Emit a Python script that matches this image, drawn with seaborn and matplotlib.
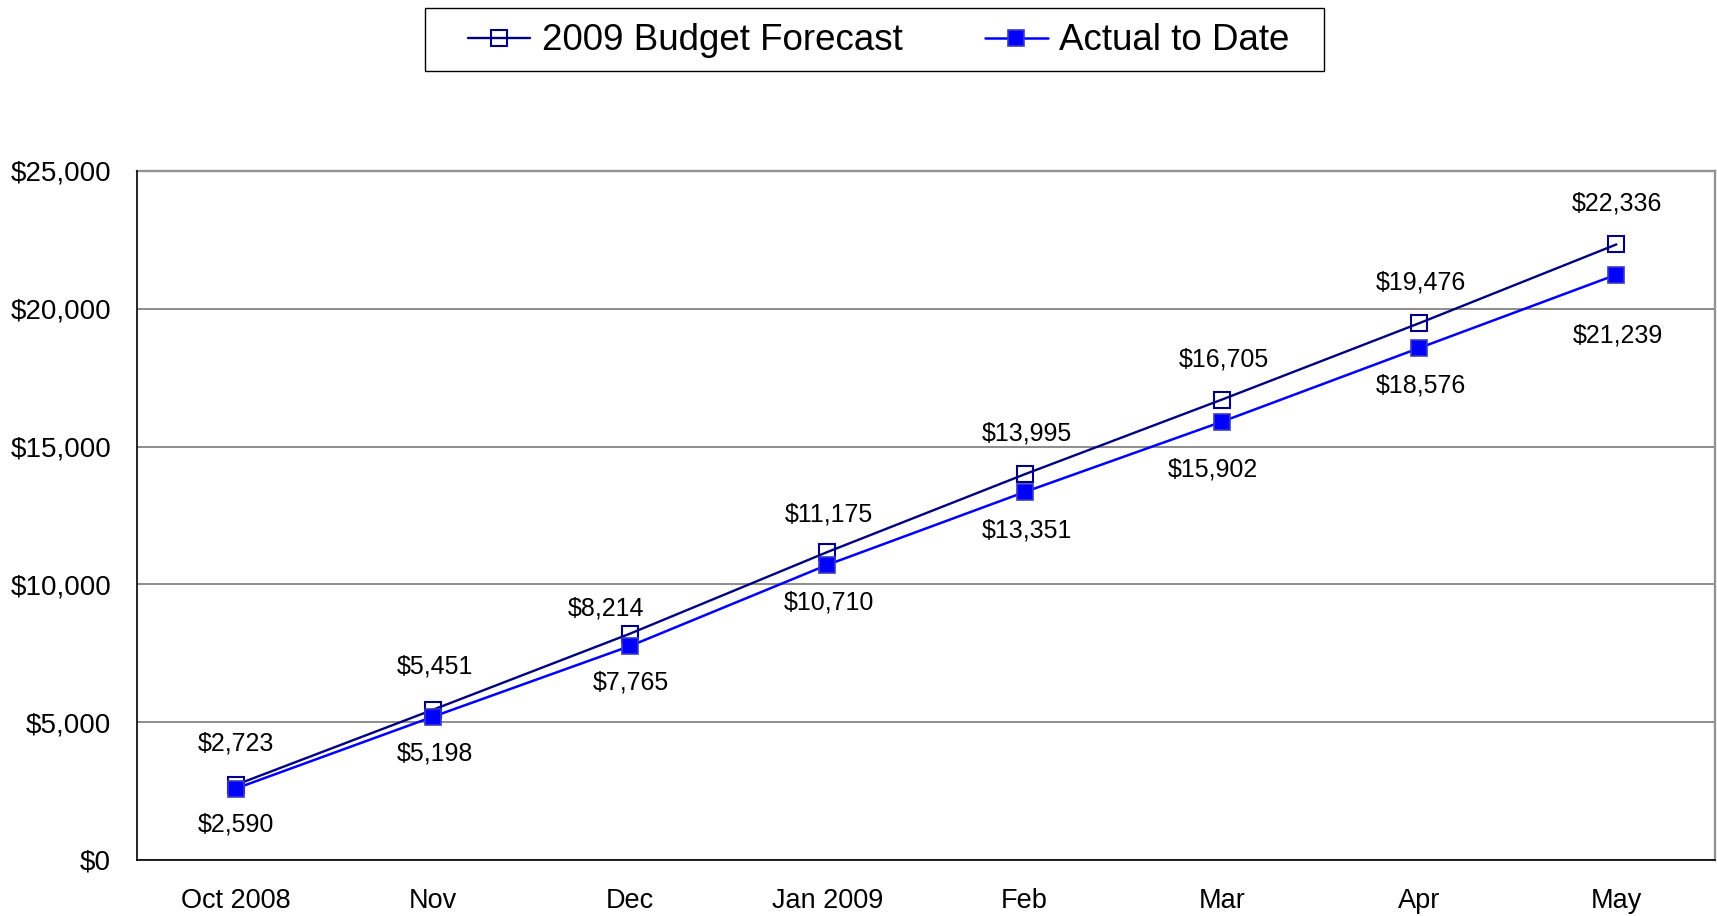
import numpy as np
import pandas as pd
import matplotlib
matplotlib.use("Agg")
import matplotlib.pyplot as plt
from matplotlib.patches import Rectangle
from matplotlib.ticker import FuncFormatter, FixedLocator
import seaborn as sns

# ---- data ----
months = ["Oct 2008", "Nov", "Dec", "Jan 2009", "Feb", "Mar", "Apr", "May"]
budget = [2723, 5451, 8214, 11175, 13995, 16705, 19476, 22336]
actual = [2590, 5198, 7765, 10710, 13351, 15902, 18576, 21239]
series_names = ["2009 Budget Forecast", "Actual to Date"]

# label offsets (pixels, dx, dy; dy positive = downward)
budget_label_off = [(0, -41), (2, -43), (-24, -25), (2, -38), (2, -41), (2, -40), (2, -41), (1, -41)]
actual_label_off = [(0, 36), (2, 37), (1, 37), (2, 38), (2, 38), (-9, 48), (2, 37), (2, 61)]

sns.set_style("white")
plt.rcParams["font.family"] = ["Liberation Sans", "DejaVu Sans"]
plt.rcParams["text.color"] = "black"
plt.rcParams["xtick.color"] = "black"
plt.rcParams["ytick.color"] = "black"
plt.rcParams["xtick.labelcolor"] = "black"
plt.rcParams["ytick.labelcolor"] = "black"

W, H, DPI = 1717, 916, 100
fig = plt.figure(figsize=(W / DPI, H / DPI), dpi=DPI)
ax = fig.add_axes([137 / W, 1 - 860 / H, (1715 - 137) / W, (860 - 171) / H])

pos = np.arange(len(months))
df = pd.DataFrame({"pos": np.concatenate([pos, pos]),
                   "value": budget + actual,
                   "series": [series_names[0]] * len(pos) + [series_names[1]] * len(pos)})

navy = "#000080"
blue = "#0000FF"
sns.lineplot(data=df[df.series == series_names[0]], x="pos", y="value", ax=ax,
             color=navy, lw=1.7, marker="s", markersize=11.5,
             markerfacecolor="none", markeredgecolor=navy, markeredgewidth=1.5,
             label=series_names[0], zorder=3)
sns.lineplot(data=df[df.series == series_names[1]], x="pos", y="value", ax=ax,
             color=blue, lw=1.8, marker="s", markersize=11.5,
             markerfacecolor=blue, markeredgecolor="#3a3ac8", markeredgewidth=1.2,
             label=series_names[1], zorder=4)

# axes limits and ticks
ax.set_xlim(-0.5, len(months) - 0.5)
ax.set_ylim(0, 25000)
ax.set_xticks(pos)
ax.set_xticklabels(months, fontsize=19.5)
ax.xaxis.set_minor_locator(FixedLocator(np.arange(-0.5, len(months), 1.0)))
ax.tick_params(axis="x", which="major", length=0, pad=20.5)
ax.tick_params(axis="x", which="minor", length=7.2, width=1.1, color="black", direction="out")
ax.set_yticks(np.arange(0, 25001, 5000))
ax.yaxis.set_major_formatter(FuncFormatter(lambda v, p: f"${int(v):,}"))
ax.tick_params(axis="y", which="major", length=7.2, width=1.1, color="black",
               direction="out", pad=11.5, labelsize=20)
ax.set_xlabel("")
ax.set_ylabel("")

ax.grid(axis="y", color="#6e6e6e", lw=1.1)
ax.grid(axis="x", visible=False)
ax.set_axisbelow(True)
for s in ["left", "bottom"]:
    ax.spines[s].set_color("black")
    ax.spines[s].set_linewidth(1.2)
for s in ["top", "right"]:
    ax.spines[s].set_color("#939393")
    ax.spines[s].set_linewidth(1.7)
ax.spines["left"].set_zorder(5)
ax.spines["bottom"].set_zorder(5)

# data labels
k = 72 / DPI
for i in range(len(months)):
    dx, dy = budget_label_off[i]
    ax.annotate(f"${budget[i]:,}", (pos[i], budget[i]), xytext=(dx * k, -dy * k),
                textcoords="offset points", ha="center", va="center", fontsize=18,
                color="black")
    dx, dy = actual_label_off[i]
    ax.annotate(f"${actual[i]:,}", (pos[i], actual[i]), xytext=(dx * k, -dy * k),
                textcoords="offset points", ha="center", va="center", fontsize=18,
                color="black")

# legend
handles, labels = ax.get_legend_handles_labels()
if ax.get_legend() is not None:
    ax.get_legend().remove()
leg = fig.legend(handles, labels, loc="center", ncol=2, frameon=False,
                 bbox_to_anchor=(878.5 / W, 1 - 41 / H), fontsize=26.5,
                 handlelength=1.7, handletextpad=0.3, columnspacing=2.25,
                 borderpad=0.2, labelcolor="black")
fig.patches.append(Rectangle((425 / W, 1 - 71 / H), (1324 - 425) / W, (71 - 8) / H,
                             transform=fig.transFigure, fill=False,
                             edgecolor="black", lw=1.0))

fig.savefig("out.png", dpi=DPI)
